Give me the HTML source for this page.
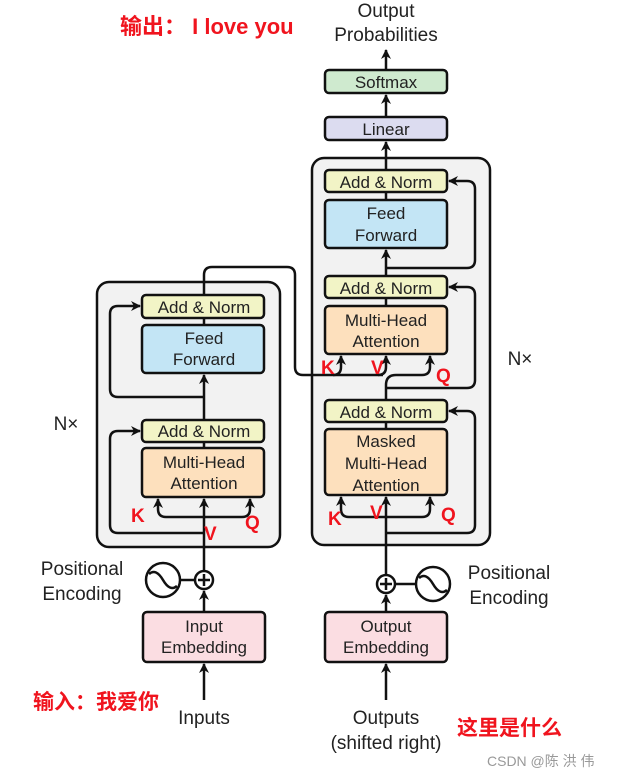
<!DOCTYPE html>
<html><head><meta charset="utf-8"><style>
html,body{margin:0;padding:0;background:#fff}
svg{display:block}
.t{font-family:"Liberation Sans",sans-serif;fill:#222;text-anchor:middle}
.r{font-family:"Liberation Sans","Noto Sans CJK SC",sans-serif;fill:#f0141e;font-weight:bold}
</style></head><body>
<svg width="625" height="777" viewBox="0 0 625 777" xmlns="http://www.w3.org/2000/svg">
<defs><marker id="a" markerWidth="10" markerHeight="10" refX="9" refY="5" orient="auto" markerUnits="userSpaceOnUse"><path d="M0,0 L10,5 L0,10 L3,5 z" fill="#111"/></marker></defs>
<g stroke="#111" stroke-width="2.5" fill="none">
<rect x="97" y="282" width="183" height="265" rx="12" fill="#f2f2f2"/>
<rect x="312" y="158" width="178" height="387" rx="12" fill="#f2f2f2"/>
</g>
<g stroke="#111" stroke-width="2.5">
<rect x="142" y="295" width="122" height="23" rx="4" fill="#f2f4c6"/>
<rect x="142" y="325" width="122" height="48" rx="4" fill="#c3e5f5"/>
<rect x="142" y="420" width="122" height="22" rx="4" fill="#f2f4c6"/>
<rect x="142" y="448" width="122" height="49" rx="4" fill="#fde0bd"/>
<rect x="143" y="612" width="122" height="50" rx="4" fill="#fbdde2"/>
<rect x="325" y="70" width="122" height="23" rx="4" fill="#cfeacf"/>
<rect x="325" y="117" width="122" height="23" rx="4" fill="#dcdcf0"/>
<rect x="325" y="170" width="122" height="22" rx="4" fill="#f2f4c6"/>
<rect x="325" y="200" width="122" height="48" rx="4" fill="#c3e5f5"/>
<rect x="325" y="276" width="122" height="22" rx="4" fill="#f2f4c6"/>
<rect x="325" y="306" width="122" height="48" rx="4" fill="#fde0bd"/>
<rect x="325" y="400" width="122" height="22" rx="4" fill="#f2f4c6"/>
<rect x="325" y="429" width="122" height="66" rx="4" fill="#fde0bd"/>
<rect x="325" y="612" width="122" height="50" rx="4" fill="#fbdde2"/>
</g>
<g stroke="#111" stroke-width="2.5" fill="none">
<path d="M204 700 V664" marker-end="url(#a)"/>
<path d="M204 612 V591" marker-end="url(#a)"/>
<path d="M204 571 V499" marker-end="url(#a)"/>
<path d="M204 517 H166 Q158 517 158 509 V499" marker-end="url(#a)"/>
<path d="M204 517 H242 Q250 517 250 509 V499" marker-end="url(#a)"/>
<path d="M204 533 H118 Q110 533 110 525 V439 Q110 431 118 431 H140" marker-end="url(#a)"/>
<path d="M204 448 V442"/>
<path d="M204 420 V375" marker-end="url(#a)"/>
<path d="M204 397 H118 Q110 397 110 389 V314 Q110 306 118 306 H140" marker-end="url(#a)"/>
<path d="M204 325 V318"/>
<path d="M204 295 V275 Q204 267 212 267 H287 Q295 267 295 275 V367 Q295 375 303 375 H383"/>
<path d="M333 375 Q341 375 341 367 V356" marker-end="url(#a)"/>
<path d="M378 375 Q386 375 386 367 V356" marker-end="url(#a)"/>
<path d="M386 700 V664" marker-end="url(#a)"/>
<path d="M386 612 V595" marker-end="url(#a)"/>
<path d="M386 575 V497" marker-end="url(#a)"/>
<path d="M386 517 H349 Q341 517 341 509 V497" marker-end="url(#a)"/>
<path d="M386 517 H422 Q430 517 430 509 V497" marker-end="url(#a)"/>
<path d="M386 533 H467 Q475 533 475 525 V419 Q475 411 467 411 H449" marker-end="url(#a)"/>
<path d="M386 429 V422"/>
<path d="M386 400 V385 Q386 375 396 375 H422 Q430 375 430 367 V356" marker-end="url(#a)"/>
<path d="M386 388 H467 Q475 388 475 380 V295 Q475 287 467 287 H449" marker-end="url(#a)"/>
<path d="M386 306 V298"/>
<path d="M386 276 V250" marker-end="url(#a)"/>
<path d="M386 268 H467 Q475 268 475 260 V189 Q475 181 467 181 H449" marker-end="url(#a)"/>
<path d="M386 200 V192"/>
<path d="M386 170 V142" marker-end="url(#a)"/>
<path d="M386 117 V95" marker-end="url(#a)"/>
<path d="M386 70 V50" marker-end="url(#a)"/>
<circle cx="204" cy="580" r="9" fill="#fff"/>
<path d="M198 580 H210 M204 574 V586"/>
<circle cx="163" cy="580" r="17" fill="#fff"/>
<path d="M149 574 Q156 568 163 580 Q170 592 177 586"/>
<path d="M180 580 H195"/>
<circle cx="386" cy="584" r="9" fill="#fff"/>
<path d="M380 584 H392 M386 578 V590"/>
<circle cx="433" cy="584" r="17" fill="#fff"/>
<path d="M419 578 Q426 572 433 584 Q440 596 447 590"/>
<path d="M395 584 H416"/>
</g>
<g class="t" font-size="17">
<text x="204" y="313">Add &amp; Norm</text>
<text x="204" y="344">Feed</text><text x="204" y="365">Forward</text>
<text x="204" y="437">Add &amp; Norm</text>
<text x="204" y="468">Multi-Head</text><text x="204" y="489">Attention</text>
<text x="204" y="632">Input</text><text x="204" y="653">Embedding</text>
<text x="386" y="88">Softmax</text>
<text x="386" y="135">Linear</text>
<text x="386" y="188">Add &amp; Norm</text>
<text x="386" y="219">Feed</text><text x="386" y="241">Forward</text>
<text x="386" y="294">Add &amp; Norm</text>
<text x="386" y="326">Multi-Head</text><text x="386" y="347">Attention</text>
<text x="386" y="418">Add &amp; Norm</text>
<text x="386" y="447">Masked</text><text x="386" y="469">Multi-Head</text><text x="386" y="491">Attention</text>
<text x="386" y="632">Output</text><text x="386" y="653">Embedding</text>
</g>
<g class="t" font-size="19">
<text x="386" y="17">Output</text><text x="386" y="41">Probabilities</text>
<text x="204" y="724">Inputs</text>
<text x="386" y="724">Outputs</text><text x="386" y="749">(shifted right)</text>
<text x="82" y="575">Positional</text><text x="82" y="600">Encoding</text>
<text x="509" y="579">Positional</text><text x="509" y="604">Encoding</text>
<text x="66" y="430">N×</text>
<text x="520" y="365">N×</text>
</g>
<g class="r" font-size="22">
<text x="120" y="34">输出： I love you</text>
<text x="33" y="709" font-size="21">输入：我爱你</text>
<text x="457" y="735" font-size="21">这里是什么</text>
</g>
<g class="r" font-size="19">
<text x="131" y="522">K</text><text x="204" y="540">V</text><text x="245" y="529">Q</text>
<text x="321" y="374">K</text><text x="371" y="374">V</text><text x="436" y="382">Q</text>
<text x="328" y="525">K</text><text x="370" y="519">V</text><text x="441" y="521">Q</text>
</g>
<text x="487" y="766" font-family="'Liberation Sans','Noto Sans CJK SC',sans-serif" font-size="14" fill="#999">CSDN @陈 洪 伟</text>
</svg>
</body></html>
